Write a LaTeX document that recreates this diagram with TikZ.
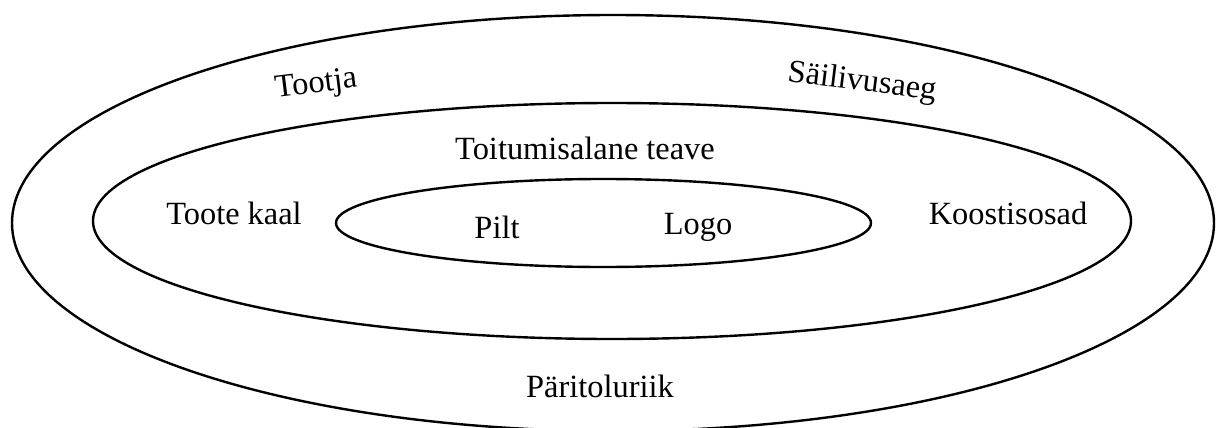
\documentclass[tikz,border=0pt]{standalone}
\usepackage{fontspec}
\setmainfont{Liberation Serif}
\begin{document}
\begin{tikzpicture}[x=0.5pt,y=-0.5pt,
  ring/.style={line width=1.2pt},
  lbl/.style={font=\fontsize{16.2}{19}\selectfont, inner sep=0pt}]
\useasboundingbox (0,0) rectangle (1216,428);
\clip (0,0) rectangle (1216,428);
% three nested rings
\draw[ring] (613,223) ellipse [x radius=601, y radius=208];
\draw[ring] (612,221) ellipse [x radius=519, y radius=118];
\draw[ring] (603.5,223) ellipse [x radius=267.5, y radius=44];
% outer ring labels
\node[lbl, rotate=7] (tootja) at (316,85) {Tootja};
\node[lbl, rotate=-7] (sailivus) at (862,83) {Säilivusaeg};
\node[lbl] (paritolu) at (600,386) {Päritoluriik};
% middle ring labels
\node[lbl] (toitumis) at (585,148) {Toitumisalane teave};
\node[lbl] (kaal) at (234,213) {Toote kaal};
\node[lbl] (koostis) at (1008,213) {Koostisosad};
% inner ring labels
\node[lbl] (pilt) at (497,227) {Pilt};
\node[lbl] (logo) at (698,227) {Logo};
\end{tikzpicture}
\end{document}
